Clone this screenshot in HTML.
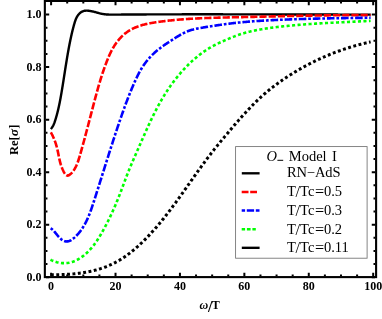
<!DOCTYPE html>
<html><head><meta charset="utf-8"><title>Re[sigma] vs omega/T</title>
<style>
html,body{margin:0;padding:0;background:#fff;}
body{width:382px;height:319px;overflow:hidden;font-family:"Liberation Serif",serif;}
svg{display:block;will-change:transform;}
</style></head><body>
<svg width="382" height="319" viewBox="0 0 382 319">
<rect x="0" y="0" width="382" height="319" fill="#fff"/>
<clipPath id="c"><rect x="44.85" y="0.95" width="331.25" height="276.15000000000003"/></clipPath>
<g clip-path="url(#c)" fill="none" stroke-linejoin="round">
<path d="M50.80,129.00 L51.27,128.47 L51.70,127.93 L52.10,127.36 L52.48,126.79 L52.83,126.20 L53.16,125.60 L53.47,124.99 L53.75,124.36 L54.02,123.73 L54.27,123.10 L54.52,122.45 L54.74,121.80 L54.96,121.15 L55.18,120.49 L55.39,119.83 L55.59,119.18 L55.79,118.52 L55.99,117.86 L56.18,117.19 L56.37,116.53 L56.56,115.87 L56.74,115.21 L56.92,114.54 L57.10,113.88 L57.27,113.21 L57.44,112.55 L57.61,111.88 L57.78,111.21 L57.94,110.55 L58.10,109.88 L58.26,109.21 L58.41,108.54 L58.56,107.87 L58.71,107.20 L58.86,106.53 L59.01,105.86 L59.15,105.18 L59.29,104.51 L59.43,103.84 L59.57,103.16 L59.70,102.49 L59.84,101.82 L59.97,101.14 L60.10,100.47 L60.23,99.79 L60.35,99.11 L60.48,98.44 L60.60,97.76 L60.73,97.08 L60.85,96.41 L60.97,95.73 L61.09,95.05 L61.20,94.37 L61.32,93.69 L61.44,93.01 L61.55,92.34 L61.67,91.66 L61.78,90.98 L61.90,90.30 L62.01,89.62 L62.12,88.94 L62.23,88.26 L62.35,87.58 L62.46,86.90 L62.57,86.22 L62.68,85.53 L62.79,84.85 L62.90,84.17 L63.00,83.49 L63.11,82.81 L63.22,82.13 L63.33,81.45 L63.44,80.77 L63.54,80.08 L63.65,79.40 L63.76,78.72 L63.86,78.04 L63.97,77.36 L64.08,76.68 L64.18,75.99 L64.29,75.31 L64.39,74.63 L64.50,73.95 L64.61,73.27 L64.71,72.58 L64.82,71.90 L64.92,71.22 L65.03,70.54 L65.14,69.86 L65.24,69.18 L65.35,68.49 L65.46,67.81 L65.57,67.13 L65.67,66.45 L65.78,65.77 L65.89,65.09 L66.00,64.41 L66.11,63.73 L66.22,63.05 L66.33,62.37 L66.44,61.69 L66.55,61.01 L66.66,60.33 L66.77,59.65 L66.88,58.97 L67.00,58.29 L67.11,57.61 L67.22,56.93 L67.34,56.25 L67.45,55.57 L67.57,54.90 L67.69,54.22 L67.80,53.54 L67.92,52.86 L68.04,52.19 L68.16,51.51 L68.28,50.83 L68.41,50.16 L68.53,49.48 L68.65,48.81 L68.78,48.13 L68.90,47.46 L69.03,46.78 L69.16,46.11 L69.29,45.44 L69.42,44.76 L69.55,44.09 L69.68,43.42 L69.82,42.75 L69.95,42.07 L70.09,41.40 L70.23,40.73 L70.36,40.06 L70.50,39.39 L70.65,38.72 L70.79,38.05 L70.93,37.39 L71.08,36.72 L71.23,36.05 L71.38,35.38 L71.53,34.72 L71.68,34.05 L71.83,33.38 L71.99,32.72 L72.15,32.05 L72.31,31.38 L72.47,30.71 L72.64,30.05 L72.81,29.38 L72.98,28.71 L73.15,28.04 L73.33,27.37 L73.51,26.69 L73.69,26.02 L73.87,25.35 L74.06,24.67 L74.26,24.00 L74.45,23.32 L74.65,22.64 L74.86,21.97 L75.08,21.29 L75.30,20.62 L75.55,19.96 L75.80,19.30 L76.07,18.65 L76.37,18.01 L76.68,17.39 L77.01,16.77 L77.37,16.17 L77.76,15.58 L78.16,15.02 L78.59,14.48 L79.04,13.96 L79.51,13.47 L80.00,13.01 L80.52,12.59 L81.05,12.20 L81.60,11.85 L82.18,11.54 L82.77,11.28 L83.38,11.06 L84.01,10.90 L84.65,10.77 L85.31,10.69 L85.98,10.64 L86.65,10.62 L87.34,10.64 L88.03,10.69 L88.72,10.76 L89.41,10.85 L90.11,10.95 L90.79,11.08 L91.48,11.21 L92.17,11.36 L92.85,11.52 L93.53,11.68 L94.20,11.85 L94.88,12.03 L95.55,12.21 L96.22,12.40 L96.90,12.58 L97.57,12.76 L98.24,12.94 L98.91,13.12 L99.58,13.29 L100.25,13.46 L100.92,13.61 L101.59,13.76 L102.26,13.89 L102.94,14.01 L103.61,14.12 L104.29,14.22 L104.97,14.30 L105.65,14.37 L106.33,14.43 L107.02,14.48 L107.70,14.53 L108.38,14.56 L109.07,14.59 L109.76,14.61 L110.44,14.62 L111.13,14.63 L111.82,14.64 L112.51,14.64 L113.19,14.64 L113.88,14.63 L114.57,14.63 L115.26,14.62 L115.95,14.62 L116.64,14.61 L117.33,14.60 L118.02,14.60 L118.70,14.59 L119.39,14.59 L120.08,14.58 L120.77,14.58 L121.46,14.57 L122.15,14.57 L122.84,14.56 L123.53,14.56 L124.22,14.55 L124.90,14.55 L125.59,14.54 L126.28,14.54 L126.97,14.53 L127.66,14.53 L128.35,14.53 L129.04,14.52 L129.73,14.52 L130.42,14.51 L131.10,14.51 L131.79,14.50 L132.48,14.50 L133.17,14.50 L133.86,14.49 L134.55,14.49 L135.24,14.48 L135.93,14.48 L136.62,14.48 L137.30,14.47 L137.99,14.47 L138.68,14.46 L139.37,14.46 L140.06,14.46 L140.75,14.45 L141.44,14.45 L142.13,14.45 L142.81,14.44 L143.50,14.44 L144.19,14.44 L144.88,14.43 L145.57,14.43 L146.26,14.43 L146.95,14.42 L147.64,14.42 L148.32,14.42 L149.01,14.42 L149.70,14.41 L150.39,14.41 L151.08,14.41 L151.77,14.40 L152.46,14.40 L153.14,14.40 L153.83,14.40 L154.52,14.39 L155.21,14.39 L155.90,14.39 L156.59,14.39 L157.28,14.38 L157.97,14.38 L158.65,14.38 L159.34,14.38 L160.03,14.37 L160.72,14.37 L161.41,14.37 L162.10,14.37 L162.79,14.37 L163.47,14.36 L164.16,14.36 L164.85,14.36 L165.54,14.36 L166.23,14.36 L166.92,14.35 L167.61,14.35 L168.30,14.35 L168.98,14.35 L169.67,14.35 L170.36,14.35 L171.05,14.34 L171.74,14.34 L172.43,14.34 L173.12,14.34 L173.80,14.34 L174.49,14.34 L175.18,14.34 L175.87,14.33 L176.56,14.33 L177.25,14.33 L177.94,14.33 L178.62,14.33 L179.31,14.33 L180.00,14.33 L180.69,14.33 L181.38,14.33 L182.07,14.32 L182.76,14.32 L183.44,14.32 L184.13,14.32 L184.82,14.32 L185.51,14.32 L186.20,14.32 L186.89,14.32 L187.57,14.32 L188.26,14.32 L188.95,14.32 L189.64,14.32 L190.33,14.32 L191.02,14.32 L191.71,14.32 L192.39,14.31 L193.08,14.31 L193.77,14.31 L194.46,14.31 L195.15,14.31 L195.84,14.31 L196.53,14.31 L197.21,14.31 L197.90,14.31 L198.59,14.31 L199.28,14.31 L199.97,14.31 L200.66,14.31 L201.34,14.31 L202.03,14.31 L202.72,14.31 L203.41,14.31 L204.10,14.31 L204.79,14.31 L205.48,14.31 L206.16,14.31 L206.85,14.31 L207.54,14.31 L208.23,14.31 L208.92,14.31 L209.61,14.31 L210.29,14.31 L210.98,14.31 L211.67,14.32 L212.36,14.32 L213.05,14.32 L213.74,14.32 L214.42,14.32 L215.11,14.32 L215.80,14.32 L216.49,14.32 L217.18,14.32 L217.87,14.32 L218.56,14.32 L219.24,14.32 L219.93,14.32 L220.62,14.32 L221.31,14.32 L222.00,14.32 L222.69,14.32 L223.37,14.33 L224.06,14.33 L224.75,14.33 L225.44,14.33 L226.13,14.33 L226.82,14.33 L227.50,14.33 L228.19,14.33 L228.88,14.33 L229.57,14.33 L230.26,14.33 L230.95,14.34 L231.64,14.34 L232.32,14.34 L233.01,14.34 L233.70,14.34 L234.39,14.34 L235.08,14.34 L235.77,14.34 L236.45,14.34 L237.14,14.35 L237.83,14.35 L238.52,14.35 L239.21,14.35 L239.90,14.35 L240.58,14.35 L241.27,14.35 L241.96,14.35 L242.65,14.36 L243.34,14.36 L244.03,14.36 L244.71,14.36 L245.40,14.36 L246.09,14.36 L246.78,14.36 L247.47,14.37 L248.16,14.37 L248.84,14.37 L249.53,14.37 L250.22,14.37 L250.91,14.37 L251.60,14.37 L252.29,14.38 L252.97,14.38 L253.66,14.38 L254.35,14.38 L255.04,14.38 L255.73,14.38 L256.42,14.38 L257.10,14.39 L257.79,14.39 L258.48,14.39 L259.17,14.39 L259.86,14.39 L260.55,14.39 L261.24,14.40 L261.92,14.40 L262.61,14.40 L263.30,14.40 L263.99,14.40 L264.68,14.40 L265.37,14.41 L266.05,14.41 L266.74,14.41 L267.43,14.41 L268.12,14.41 L268.81,14.41 L269.50,14.42 L270.18,14.42 L270.87,14.42 L271.56,14.42 L272.25,14.42 L272.94,14.42 L273.63,14.43 L274.31,14.43 L275.00,14.43 L275.69,14.43 L276.38,14.43 L277.07,14.44 L277.76,14.44 L278.44,14.44 L279.13,14.44 L279.82,14.44 L280.51,14.44 L281.20,14.45 L281.89,14.45 L282.57,14.45 L283.26,14.45 L283.95,14.45 L284.64,14.45 L285.33,14.46 L286.02,14.46 L286.70,14.46 L287.39,14.46 L288.08,14.46 L288.77,14.47 L289.46,14.47 L290.15,14.47 L290.83,14.47 L291.52,14.47 L292.21,14.47 L292.90,14.48 L293.59,14.48 L294.28,14.48 L294.97,14.48 L295.65,14.48 L296.34,14.49 L297.03,14.49 L297.72,14.49 L298.41,14.49 L299.10,14.49 L299.78,14.49 L300.47,14.50 L301.16,14.50 L301.85,14.50 L302.54,14.50 L303.23,14.50 L303.91,14.50 L304.60,14.51 L305.29,14.51 L305.98,14.51 L306.67,14.51 L307.36,14.51 L308.04,14.51 L308.73,14.52 L309.42,14.52 L310.11,14.52 L310.80,14.52 L311.49,14.52 L312.18,14.52 L312.86,14.53 L313.55,14.53 L314.24,14.53 L314.93,14.53 L315.62,14.53 L316.31,14.53 L316.99,14.53 L317.68,14.54 L318.37,14.54 L319.06,14.54 L319.75,14.54 L320.44,14.54 L321.12,14.54 L321.81,14.54 L322.50,14.55 L323.19,14.55 L323.88,14.55 L324.57,14.55 L325.26,14.55 L325.94,14.55 L326.63,14.55 L327.32,14.56 L328.01,14.56 L328.70,14.56 L329.39,14.56 L330.07,14.56 L330.76,14.56 L331.45,14.56 L332.14,14.56 L332.83,14.57 L333.52,14.57 L334.21,14.57 L334.89,14.57 L335.58,14.57 L336.27,14.57 L336.96,14.57 L337.65,14.57 L338.34,14.58 L339.03,14.58 L339.71,14.58 L340.40,14.58 L341.09,14.58 L341.78,14.58 L342.47,14.58 L343.16,14.58 L343.84,14.58 L344.53,14.58 L345.22,14.58 L345.91,14.59 L346.60,14.59 L347.29,14.59 L347.98,14.59 L348.66,14.59 L349.35,14.59 L350.04,14.59 L350.73,14.59 L351.42,14.59 L352.11,14.59 L352.80,14.59 L353.48,14.59 L354.17,14.59 L354.86,14.59 L355.55,14.60 L356.24,14.60 L356.93,14.60 L357.62,14.60 L358.30,14.60 L358.99,14.60 L359.68,14.60 L360.37,14.60 L361.06,14.60 L361.75,14.60 L362.44,14.60 L363.12,14.60 L363.81,14.60 L364.50,14.60 L365.19,14.60 L365.88,14.60 L366.57,14.60 L367.26,14.60 L367.95,14.60 L368.63,14.60 L369.32,14.60 L370.01,14.60 L370.70,14.60" stroke="#000" stroke-width="2.4"/>
<path d="M50.80,132.30 L51.17,132.95 L51.53,133.60 L51.88,134.26 L52.23,134.93 L52.57,135.60 L52.89,136.28 L53.21,136.97 L53.52,137.66 L53.83,138.36 L54.12,139.06 L54.40,139.77 L54.68,140.48 L54.95,141.19 L55.21,141.91 L55.46,142.63 L55.70,143.35 L55.94,144.07 L56.16,144.80 L56.38,145.53 L56.58,146.25 L56.78,146.98 L56.97,147.71 L57.15,148.44 L57.33,149.17 L57.49,149.89 L57.65,150.62 L57.81,151.35 L57.96,152.08 L58.11,152.81 L58.26,153.54 L58.40,154.27 L58.55,155.00 L58.69,155.73 L58.84,156.46 L58.99,157.19 L59.14,157.92 L59.30,158.66 L59.46,159.39 L59.63,160.12 L59.81,160.86 L59.99,161.60 L60.18,162.34 L60.38,163.07 L60.60,163.81 L60.82,164.56 L61.06,165.30 L61.31,166.04 L61.57,166.79 L61.85,167.54 L62.15,168.29 L62.46,169.04 L62.79,169.79 L63.14,170.54 L63.51,171.30 L63.90,172.03 L64.31,172.74 L64.74,173.41 L65.19,174.01 L65.65,174.54 L66.13,174.98 L66.63,175.31 L67.15,175.53 L67.68,175.60 L68.23,175.53 L68.79,175.32 L69.35,174.99 L69.92,174.57 L70.47,174.09 L71.00,173.59 L71.52,173.07 L72.01,172.53 L72.49,171.97 L72.94,171.40 L73.38,170.82 L73.80,170.22 L74.20,169.60 L74.59,168.98 L74.96,168.34 L75.32,167.69 L75.67,167.03 L76.00,166.36 L76.32,165.68 L76.62,165.00 L76.92,164.30 L77.21,163.60 L77.48,162.88 L77.75,162.17 L78.01,161.44 L78.26,160.72 L78.50,159.98 L78.74,159.25 L78.97,158.51 L79.20,157.77 L79.43,157.02 L79.65,156.28 L79.87,155.53 L80.08,154.79 L80.30,154.04 L80.51,153.30 L80.72,152.55 L80.94,151.81 L81.15,151.07 L81.36,150.33 L81.57,149.59 L81.77,148.85 L81.98,148.11 L82.19,147.37 L82.39,146.64 L82.60,145.90 L82.80,145.16 L83.00,144.43 L83.21,143.69 L83.41,142.96 L83.61,142.23 L83.81,141.49 L84.01,140.76 L84.21,140.03 L84.41,139.30 L84.60,138.57 L84.80,137.84 L85.00,137.11 L85.19,136.38 L85.39,135.65 L85.58,134.92 L85.78,134.19 L85.97,133.47 L86.16,132.74 L86.36,132.01 L86.55,131.29 L86.74,130.56 L86.93,129.83 L87.12,129.11 L87.32,128.38 L87.51,127.66 L87.70,126.93 L87.89,126.21 L88.08,125.48 L88.27,124.76 L88.46,124.03 L88.65,123.31 L88.83,122.59 L89.02,121.86 L89.21,121.14 L89.40,120.41 L89.59,119.69 L89.78,118.97 L89.97,118.24 L90.16,117.52 L90.34,116.80 L90.53,116.07 L90.72,115.35 L90.91,114.62 L91.10,113.90 L91.29,113.18 L91.48,112.45 L91.67,111.73 L91.86,111.00 L92.05,110.28 L92.24,109.55 L92.43,108.83 L92.62,108.10 L92.81,107.38 L93.00,106.65 L93.19,105.92 L93.38,105.20 L93.57,104.47 L93.76,103.74 L93.96,103.02 L94.15,102.29 L94.34,101.56 L94.54,100.83 L94.73,100.10 L94.93,99.37 L95.12,98.64 L95.32,97.91 L95.52,97.18 L95.71,96.45 L95.91,95.72 L96.11,94.99 L96.31,94.26 L96.51,93.53 L96.71,92.79 L96.91,92.06 L97.11,91.33 L97.32,90.60 L97.52,89.87 L97.73,89.14 L97.94,88.40 L98.14,87.67 L98.35,86.94 L98.56,86.21 L98.77,85.48 L98.99,84.75 L99.20,84.02 L99.42,83.29 L99.63,82.56 L99.85,81.83 L100.07,81.10 L100.29,80.38 L100.51,79.65 L100.74,78.92 L100.96,78.20 L101.19,77.47 L101.42,76.75 L101.65,76.03 L101.88,75.30 L102.11,74.58 L102.35,73.86 L102.58,73.14 L102.82,72.42 L103.06,71.71 L103.31,70.99 L103.55,70.27 L103.80,69.56 L104.05,68.85 L104.30,68.14 L104.55,67.43 L104.81,66.72 L105.06,66.01 L105.32,65.30 L105.59,64.60 L105.85,63.89 L106.12,63.19 L106.39,62.49 L106.66,61.79 L106.93,61.09 L107.21,60.40 L107.48,59.70 L107.77,59.01 L108.05,58.32 L108.34,57.63 L108.63,56.95 L108.92,56.26 L109.22,55.58 L109.53,54.90 L109.83,54.22 L110.15,53.55 L110.47,52.88 L110.79,52.21 L111.12,51.54 L111.46,50.88 L111.80,50.22 L112.16,49.56 L112.51,48.90 L112.88,48.25 L113.25,47.60 L113.64,46.96 L114.03,46.32 L114.43,45.68 L114.83,45.05 L115.25,44.42 L115.68,43.79 L116.12,43.17 L116.57,42.55 L117.03,41.94 L117.50,41.33 L117.98,40.73 L118.46,40.13 L118.96,39.54 L119.47,38.96 L119.99,38.38 L120.52,37.81 L121.05,37.25 L121.60,36.70 L122.15,36.16 L122.71,35.62 L123.28,35.10 L123.85,34.59 L124.44,34.09 L125.03,33.60 L125.63,33.13 L126.23,32.67 L126.84,32.22 L127.46,31.78 L128.08,31.36 L128.71,30.95 L129.34,30.55 L129.98,30.17 L130.63,29.80 L131.28,29.44 L131.94,29.09 L132.60,28.75 L133.27,28.42 L133.94,28.11 L134.62,27.80 L135.30,27.51 L135.98,27.22 L136.67,26.95 L137.36,26.68 L138.06,26.42 L138.76,26.18 L139.47,25.94 L140.18,25.71 L140.89,25.49 L141.61,25.27 L142.32,25.06 L143.05,24.86 L143.77,24.67 L144.50,24.49 L145.23,24.31 L145.96,24.13 L146.69,23.97 L147.43,23.80 L148.17,23.65 L148.91,23.50 L149.65,23.35 L150.39,23.21 L151.14,23.08 L151.89,22.94 L152.63,22.81 L153.38,22.69 L154.13,22.57 L154.88,22.45 L155.63,22.33 L156.38,22.22 L157.13,22.11 L157.89,22.00 L158.64,21.89 L159.39,21.79 L160.14,21.69 L160.89,21.58 L161.64,21.48 L162.40,21.39 L163.15,21.29 L163.90,21.19 L164.65,21.10 L165.40,21.01 L166.15,20.92 L166.91,20.83 L167.66,20.75 L168.41,20.66 L169.16,20.58 L169.92,20.50 L170.67,20.42 L171.42,20.34 L172.17,20.26 L172.92,20.18 L173.68,20.11 L174.43,20.04 L175.18,19.97 L175.93,19.90 L176.69,19.83 L177.44,19.76 L178.19,19.69 L178.94,19.63 L179.70,19.57 L180.45,19.50 L181.20,19.44 L181.95,19.38 L182.71,19.33 L183.46,19.27 L184.21,19.21 L184.96,19.16 L185.72,19.11 L186.47,19.05 L187.22,19.00 L187.98,18.95 L188.73,18.90 L189.48,18.86 L190.24,18.81 L190.99,18.76 L191.74,18.72 L192.49,18.68 L193.25,18.63 L194.00,18.59 L194.75,18.55 L195.51,18.51 L196.26,18.47 L197.01,18.43 L197.77,18.40 L198.52,18.36 L199.27,18.33 L200.03,18.29 L200.78,18.26 L201.53,18.22 L202.29,18.19 L203.04,18.16 L203.80,18.13 L204.55,18.10 L205.30,18.07 L206.06,18.04 L206.81,18.01 L207.56,17.99 L208.32,17.96 L209.07,17.93 L209.83,17.91 L210.58,17.88 L211.33,17.86 L212.09,17.84 L212.84,17.81 L213.59,17.79 L214.35,17.77 L215.10,17.75 L215.86,17.72 L216.61,17.70 L217.36,17.68 L218.12,17.66 L218.87,17.64 L219.63,17.62 L220.38,17.60 L221.13,17.58 L221.89,17.57 L222.64,17.55 L223.40,17.53 L224.15,17.51 L224.91,17.49 L225.66,17.48 L226.41,17.46 L227.17,17.44 L227.92,17.42 L228.68,17.41 L229.43,17.39 L230.19,17.37 L230.94,17.36 L231.69,17.34 L232.45,17.32 L233.20,17.31 L233.96,17.29 L234.71,17.27 L235.47,17.26 L236.22,17.24 L236.98,17.22 L237.73,17.21 L238.48,17.19 L239.24,17.17 L239.99,17.16 L240.75,17.14 L241.50,17.12 L242.26,17.11 L243.01,17.09 L243.77,17.07 L244.52,17.05 L245.28,17.04 L246.03,17.02 L246.79,17.00 L247.54,16.98 L248.29,16.97 L249.05,16.95 L249.80,16.93 L250.56,16.91 L251.31,16.90 L252.07,16.88 L252.82,16.86 L253.58,16.84 L254.33,16.83 L255.09,16.81 L255.84,16.79 L256.60,16.77 L257.35,16.75 L258.11,16.74 L258.86,16.72 L259.62,16.70 L260.37,16.68 L261.13,16.67 L261.88,16.65 L262.64,16.63 L263.39,16.61 L264.15,16.59 L264.90,16.58 L265.66,16.56 L266.41,16.54 L267.17,16.52 L267.92,16.51 L268.68,16.49 L269.43,16.47 L270.19,16.45 L270.94,16.43 L271.70,16.42 L272.45,16.40 L273.21,16.38 L273.96,16.36 L274.72,16.35 L275.47,16.33 L276.23,16.31 L276.98,16.29 L277.74,16.28 L278.49,16.26 L279.25,16.24 L280.00,16.23 L280.76,16.21 L281.51,16.19 L282.27,16.17 L283.02,16.16 L283.78,16.14 L284.53,16.12 L285.29,16.11 L286.04,16.09 L286.80,16.07 L287.55,16.06 L288.31,16.04 L289.06,16.02 L289.82,16.01 L290.57,15.99 L291.33,15.97 L292.08,15.96 L292.84,15.94 L293.59,15.93 L294.35,15.91 L295.10,15.90 L295.86,15.88 L296.62,15.86 L297.37,15.85 L298.13,15.83 L298.88,15.82 L299.64,15.80 L300.39,15.79 L301.15,15.77 L301.90,15.76 L302.66,15.74 L303.41,15.73 L304.17,15.71 L304.92,15.70 L305.68,15.69 L306.43,15.67 L307.19,15.66 L307.94,15.64 L308.70,15.63 L309.45,15.62 L310.21,15.60 L310.96,15.59 L311.72,15.58 L312.47,15.56 L313.23,15.55 L313.98,15.54 L314.74,15.53 L315.49,15.51 L316.25,15.50 L317.00,15.49 L317.76,15.48 L318.52,15.46 L319.27,15.45 L320.03,15.44 L320.78,15.43 L321.54,15.42 L322.29,15.41 L323.05,15.40 L323.80,15.39 L324.56,15.38 L325.31,15.37 L326.07,15.36 L326.82,15.35 L327.58,15.34 L328.33,15.33 L329.09,15.32 L329.84,15.31 L330.60,15.30 L331.35,15.29 L332.11,15.28 L332.86,15.27 L333.62,15.26 L334.37,15.26 L335.13,15.25 L335.88,15.24 L336.64,15.23 L337.39,15.23 L338.15,15.22 L338.90,15.21 L339.66,15.21 L340.41,15.20 L341.17,15.19 L341.92,15.19 L342.68,15.18 L343.43,15.18 L344.19,15.17 L344.94,15.17 L345.70,15.16 L346.45,15.16 L347.21,15.15 L347.96,15.15 L348.72,15.14 L349.47,15.14 L350.23,15.14 L350.98,15.14 L351.73,15.13 L352.49,15.13 L353.24,15.13 L354.00,15.13 L354.75,15.12 L355.51,15.12 L356.26,15.12 L357.02,15.12 L357.77,15.12 L358.53,15.12 L359.28,15.12 L360.04,15.12 L360.79,15.12 L361.55,15.12 L362.30,15.12 L363.05,15.12 L363.81,15.12 L364.56,15.13 L365.32,15.13 L366.07,15.13 L366.83,15.13 L367.58,15.14 L368.34,15.14 L369.09,15.14 L369.85,15.15 L370.60,15.15" stroke="#ff0000" stroke-width="2.6" stroke-dasharray="7.2 2.0" stroke-dashoffset="0"/>
<path d="M50.60,228.30 L51.17,228.61 L51.73,228.99 L52.28,229.41 L52.82,229.89 L53.35,230.41 L53.87,230.97 L54.39,231.56 L54.92,232.18 L55.43,232.82 L55.96,233.47 L56.48,234.13 L57.01,234.80 L57.55,235.47 L58.09,236.12 L58.65,236.77 L59.22,237.39 L59.80,237.99 L60.39,238.56 L61.01,239.10 L61.64,239.59 L62.28,240.03 L62.93,240.42 L63.60,240.75 L64.28,241.02 L64.97,241.22 L65.66,241.35 L66.36,241.42 L67.06,241.42 L67.75,241.36 L68.44,241.24 L69.13,241.06 L69.80,240.82 L70.46,240.52 L71.11,240.16 L71.74,239.76 L72.36,239.32 L72.97,238.85 L73.56,238.36 L74.14,237.86 L74.71,237.36 L75.27,236.84 L75.82,236.32 L76.35,235.79 L76.88,235.25 L77.40,234.70 L77.90,234.15 L78.40,233.58 L78.88,233.01 L79.36,232.43 L79.82,231.85 L80.28,231.26 L80.73,230.66 L81.17,230.05 L81.60,229.44 L82.02,228.82 L82.43,228.20 L82.84,227.57 L83.23,226.93 L83.62,226.29 L84.00,225.64 L84.38,224.99 L84.75,224.33 L85.11,223.67 L85.46,223.00 L85.81,222.33 L86.15,221.65 L86.48,220.97 L86.81,220.29 L87.13,219.60 L87.45,218.90 L87.76,218.21 L88.06,217.51 L88.36,216.80 L88.66,216.09 L88.95,215.38 L89.24,214.67 L89.52,213.95 L89.80,213.23 L90.07,212.51 L90.34,211.79 L90.61,211.06 L90.88,210.33 L91.14,209.60 L91.39,208.87 L91.65,208.14 L91.90,207.40 L92.15,206.67 L92.40,205.93 L92.65,205.20 L92.89,204.46 L93.13,203.72 L93.37,202.98 L93.61,202.24 L93.85,201.50 L94.09,200.76 L94.33,200.02 L94.57,199.29 L94.80,198.55 L95.04,197.81 L95.27,197.07 L95.51,196.34 L95.75,195.60 L95.98,194.87 L96.21,194.13 L96.45,193.39 L96.68,192.66 L96.92,191.93 L97.15,191.19 L97.38,190.46 L97.61,189.73 L97.85,188.99 L98.08,188.26 L98.31,187.53 L98.54,186.80 L98.77,186.07 L99.00,185.34 L99.24,184.61 L99.47,183.88 L99.70,183.15 L99.93,182.42 L100.16,181.69 L100.39,180.96 L100.62,180.23 L100.84,179.50 L101.07,178.77 L101.30,178.05 L101.53,177.32 L101.76,176.59 L101.99,175.86 L102.22,175.14 L102.45,174.41 L102.68,173.69 L102.90,172.96 L103.13,172.23 L103.36,171.51 L103.59,170.78 L103.82,170.06 L104.04,169.33 L104.27,168.61 L104.50,167.88 L104.73,167.16 L104.96,166.44 L105.18,165.71 L105.41,164.99 L105.64,164.26 L105.87,163.54 L106.10,162.82 L106.33,162.09 L106.55,161.37 L106.78,160.65 L107.01,159.93 L107.24,159.20 L107.47,158.48 L107.70,157.76 L107.93,157.04 L108.16,156.31 L108.38,155.59 L108.61,154.87 L108.84,154.15 L109.07,153.43 L109.30,152.70 L109.53,151.98 L109.76,151.26 L109.99,150.54 L110.22,149.82 L110.46,149.10 L110.69,148.37 L110.92,147.65 L111.15,146.93 L111.38,146.21 L111.61,145.49 L111.85,144.77 L112.08,144.05 L112.31,143.32 L112.55,142.60 L112.78,141.88 L113.01,141.16 L113.25,140.44 L113.48,139.72 L113.72,139.00 L113.95,138.27 L114.19,137.55 L114.43,136.83 L114.66,136.11 L114.90,135.39 L115.14,134.66 L115.38,133.94 L115.61,133.22 L115.85,132.50 L116.09,131.77 L116.33,131.05 L116.57,130.33 L116.81,129.61 L117.06,128.88 L117.30,128.16 L117.54,127.44 L117.78,126.71 L118.03,125.99 L118.27,125.27 L118.51,124.54 L118.76,123.82 L119.00,123.09 L119.25,122.37 L119.50,121.65 L119.74,120.92 L119.99,120.20 L120.24,119.47 L120.49,118.75 L120.74,118.02 L120.99,117.30 L121.24,116.57 L121.49,115.85 L121.75,115.12 L122.00,114.40 L122.25,113.67 L122.51,112.95 L122.77,112.22 L123.02,111.50 L123.28,110.77 L123.54,110.05 L123.80,109.32 L124.06,108.60 L124.32,107.88 L124.59,107.16 L124.85,106.43 L125.11,105.71 L125.38,104.99 L125.65,104.27 L125.91,103.55 L126.18,102.83 L126.45,102.11 L126.72,101.39 L127.00,100.67 L127.27,99.95 L127.54,99.24 L127.82,98.52 L128.10,97.80 L128.38,97.09 L128.66,96.37 L128.94,95.66 L129.22,94.95 L129.50,94.23 L129.79,93.52 L130.08,92.81 L130.36,92.10 L130.65,91.39 L130.94,90.69 L131.24,89.98 L131.53,89.27 L131.82,88.57 L132.12,87.86 L132.42,87.16 L132.72,86.46 L133.02,85.76 L133.32,85.06 L133.63,84.36 L133.93,83.66 L134.24,82.97 L134.55,82.27 L134.86,81.58 L135.17,80.89 L135.49,80.20 L135.81,79.51 L136.12,78.82 L136.44,78.13 L136.77,77.45 L137.10,76.76 L137.43,76.08 L137.76,75.41 L138.10,74.73 L138.44,74.05 L138.79,73.38 L139.14,72.71 L139.50,72.05 L139.86,71.38 L140.23,70.72 L140.61,70.06 L140.99,69.41 L141.38,68.76 L141.78,68.11 L142.18,67.46 L142.59,66.82 L143.01,66.18 L143.44,65.55 L143.87,64.92 L144.31,64.29 L144.76,63.67 L145.22,63.05 L145.68,62.44 L146.15,61.83 L146.62,61.23 L147.10,60.63 L147.59,60.04 L148.09,59.45 L148.59,58.86 L149.10,58.28 L149.61,57.71 L150.13,57.14 L150.66,56.58 L151.19,56.02 L151.72,55.47 L152.26,54.93 L152.81,54.39 L153.36,53.85 L153.92,53.33 L154.48,52.81 L155.05,52.29 L155.62,51.79 L156.20,51.29 L156.78,50.79 L157.37,50.31 L157.95,49.83 L158.55,49.35 L159.15,48.88 L159.75,48.42 L160.35,47.96 L160.96,47.51 L161.57,47.06 L162.18,46.62 L162.80,46.18 L163.42,45.74 L164.04,45.30 L164.67,44.87 L165.29,44.45 L165.92,44.02 L166.55,43.60 L167.19,43.18 L167.82,42.76 L168.46,42.34 L169.09,41.92 L169.73,41.50 L170.37,41.09 L171.01,40.67 L171.65,40.25 L172.30,39.84 L172.94,39.42 L173.58,39.01 L174.23,38.59 L174.87,38.18 L175.52,37.77 L176.17,37.36 L176.82,36.96 L177.47,36.56 L178.13,36.16 L178.78,35.77 L179.44,35.38 L180.10,35.00 L180.77,34.62 L181.44,34.26 L182.11,33.89 L182.78,33.54 L183.46,33.20 L184.14,32.86 L184.82,32.53 L185.51,32.21 L186.20,31.91 L186.90,31.61 L187.60,31.32 L188.31,31.05 L189.02,30.79 L189.73,30.54 L190.45,30.30 L191.18,30.07 L191.90,29.86 L192.64,29.66 L193.37,29.46 L194.11,29.28 L194.86,29.10 L195.60,28.94 L196.35,28.77 L197.10,28.62 L197.85,28.47 L198.61,28.33 L199.36,28.19 L200.12,28.05 L200.87,27.92 L201.63,27.79 L202.39,27.66 L203.15,27.53 L203.90,27.40 L204.66,27.28 L205.42,27.15 L206.17,27.03 L206.93,26.90 L207.68,26.78 L208.44,26.65 L209.20,26.53 L209.95,26.41 L210.71,26.29 L211.46,26.17 L212.22,26.05 L212.97,25.93 L213.73,25.82 L214.48,25.70 L215.24,25.59 L215.99,25.47 L216.75,25.36 L217.50,25.25 L218.25,25.14 L219.01,25.03 L219.76,24.92 L220.52,24.81 L221.27,24.70 L222.03,24.60 L222.78,24.49 L223.54,24.39 L224.29,24.29 L225.05,24.18 L225.80,24.08 L226.56,23.99 L227.31,23.89 L228.07,23.79 L228.82,23.70 L229.58,23.60 L230.33,23.51 L231.09,23.42 L231.84,23.33 L232.60,23.24 L233.36,23.15 L234.11,23.06 L234.87,22.98 L235.63,22.89 L236.39,22.81 L237.14,22.73 L237.90,22.65 L238.66,22.57 L239.42,22.50 L240.18,22.42 L240.93,22.34 L241.69,22.27 L242.45,22.20 L243.21,22.13 L243.97,22.06 L244.73,21.99 L245.49,21.92 L246.25,21.86 L247.01,21.79 L247.77,21.73 L248.53,21.67 L249.29,21.60 L250.05,21.54 L250.81,21.48 L251.58,21.43 L252.34,21.37 L253.10,21.31 L253.86,21.26 L254.62,21.20 L255.38,21.15 L256.14,21.09 L256.91,21.04 L257.67,20.99 L258.43,20.94 L259.19,20.89 L259.96,20.84 L260.72,20.80 L261.48,20.75 L262.24,20.70 L263.01,20.66 L263.77,20.61 L264.53,20.57 L265.30,20.52 L266.06,20.48 L266.82,20.44 L267.58,20.40 L268.35,20.36 L269.11,20.32 L269.87,20.28 L270.64,20.24 L271.40,20.20 L272.16,20.16 L272.93,20.12 L273.69,20.09 L274.45,20.05 L275.22,20.01 L275.98,19.98 L276.74,19.94 L277.50,19.91 L278.27,19.87 L279.03,19.84 L279.79,19.81 L280.56,19.77 L281.32,19.74 L282.08,19.71 L282.85,19.68 L283.61,19.64 L284.37,19.61 L285.13,19.58 L285.90,19.55 L286.66,19.52 L287.42,19.49 L288.19,19.46 L288.95,19.44 L289.71,19.41 L290.47,19.38 L291.24,19.35 L292.00,19.32 L292.76,19.30 L293.53,19.27 L294.29,19.25 L295.05,19.22 L295.82,19.19 L296.58,19.17 L297.34,19.14 L298.10,19.12 L298.87,19.10 L299.63,19.07 L300.39,19.05 L301.16,19.03 L301.92,19.00 L302.68,18.98 L303.44,18.96 L304.21,18.94 L304.97,18.91 L305.73,18.89 L306.50,18.87 L307.26,18.85 L308.02,18.83 L308.78,18.81 L309.55,18.79 L310.31,18.77 L311.07,18.75 L311.83,18.73 L312.60,18.71 L313.36,18.69 L314.12,18.68 L314.89,18.66 L315.65,18.64 L316.41,18.62 L317.17,18.60 L317.94,18.59 L318.70,18.57 L319.46,18.55 L320.23,18.54 L320.99,18.52 L321.75,18.50 L322.52,18.49 L323.28,18.47 L324.04,18.46 L324.80,18.44 L325.57,18.43 L326.33,18.41 L327.09,18.40 L327.86,18.38 L328.62,18.37 L329.38,18.35 L330.14,18.34 L330.91,18.32 L331.67,18.31 L332.43,18.30 L333.20,18.28 L333.96,18.27 L334.72,18.26 L335.49,18.24 L336.25,18.23 L337.01,18.22 L337.77,18.20 L338.54,18.19 L339.30,18.18 L340.06,18.17 L340.83,18.15 L341.59,18.14 L342.35,18.13 L343.12,18.12 L343.88,18.10 L344.64,18.09 L345.41,18.08 L346.17,18.07 L346.93,18.06 L347.70,18.04 L348.46,18.03 L349.22,18.02 L349.99,18.01 L350.75,18.00 L351.51,17.99 L352.27,17.97 L353.04,17.96 L353.80,17.95 L354.57,17.94 L355.33,17.93 L356.09,17.92 L356.86,17.91 L357.62,17.90 L358.38,17.88 L359.15,17.87 L359.91,17.86 L360.67,17.85 L361.44,17.84 L362.20,17.83 L362.96,17.82 L363.73,17.80 L364.49,17.79 L365.25,17.78 L366.02,17.77 L366.78,17.76 L367.55,17.75 L368.31,17.74 L369.07,17.72 L369.84,17.71 L370.60,17.70" stroke="#0000ff" stroke-width="2.6" stroke-dasharray="2.7 1.9 7.6 1.9" stroke-dashoffset="0"/>
<path d="M50.50,259.70 L51.19,260.05 L51.90,260.39 L52.60,260.70 L53.31,261.00 L54.02,261.28 L54.74,261.54 L55.46,261.78 L56.19,262.00 L56.91,262.21 L57.64,262.39 L58.38,262.56 L59.11,262.70 L59.84,262.83 L60.58,262.93 L61.31,263.02 L62.05,263.09 L62.79,263.14 L63.52,263.17 L64.26,263.17 L64.99,263.16 L65.72,263.13 L66.45,263.08 L67.18,263.01 L67.90,262.92 L68.62,262.81 L69.34,262.68 L70.06,262.53 L70.77,262.36 L71.47,262.17 L72.17,261.95 L72.87,261.72 L73.56,261.48 L74.24,261.21 L74.93,260.92 L75.60,260.62 L76.27,260.30 L76.93,259.97 L77.59,259.62 L78.25,259.26 L78.89,258.88 L79.53,258.49 L80.17,258.09 L80.79,257.67 L81.42,257.24 L82.03,256.80 L82.64,256.35 L83.24,255.90 L83.83,255.43 L84.42,254.95 L85.00,254.46 L85.57,253.97 L86.14,253.47 L86.70,252.96 L87.25,252.44 L87.79,251.92 L88.33,251.38 L88.86,250.85 L89.38,250.30 L89.89,249.75 L90.40,249.20 L90.90,248.64 L91.39,248.07 L91.87,247.50 L92.35,246.93 L92.82,246.35 L93.28,245.77 L93.74,245.18 L94.19,244.59 L94.64,243.99 L95.08,243.39 L95.51,242.78 L95.94,242.18 L96.36,241.56 L96.78,240.95 L97.20,240.33 L97.60,239.71 L98.01,239.08 L98.41,238.46 L98.80,237.83 L99.20,237.19 L99.59,236.56 L99.97,235.92 L100.35,235.28 L100.73,234.64 L101.11,233.99 L101.48,233.35 L101.85,232.70 L102.22,232.05 L102.58,231.40 L102.94,230.75 L103.31,230.10 L103.67,229.45 L104.02,228.79 L104.38,228.14 L104.73,227.48 L105.08,226.82 L105.43,226.16 L105.78,225.50 L106.13,224.84 L106.47,224.18 L106.81,223.52 L107.15,222.85 L107.49,222.19 L107.83,221.52 L108.16,220.85 L108.49,220.18 L108.83,219.51 L109.15,218.84 L109.48,218.17 L109.81,217.50 L110.13,216.83 L110.45,216.15 L110.77,215.48 L111.09,214.80 L111.41,214.12 L111.72,213.45 L112.03,212.77 L112.34,212.09 L112.65,211.41 L112.96,210.73 L113.27,210.04 L113.57,209.36 L113.87,208.68 L114.17,207.99 L114.47,207.31 L114.77,206.62 L115.06,205.94 L115.36,205.25 L115.65,204.56 L115.94,203.87 L116.23,203.18 L116.52,202.49 L116.80,201.80 L117.09,201.11 L117.37,200.42 L117.65,199.73 L117.93,199.03 L118.21,198.34 L118.48,197.64 L118.76,196.95 L119.03,196.25 L119.30,195.56 L119.57,194.86 L119.84,194.16 L120.11,193.47 L120.37,192.77 L120.64,192.07 L120.90,191.37 L121.17,190.67 L121.43,189.97 L121.69,189.27 L121.95,188.57 L122.21,187.87 L122.47,187.17 L122.73,186.47 L123.00,185.77 L123.26,185.07 L123.52,184.37 L123.78,183.67 L124.04,182.98 L124.30,182.28 L124.56,181.58 L124.82,180.88 L125.08,180.18 L125.34,179.48 L125.61,178.78 L125.87,178.09 L126.14,177.39 L126.40,176.69 L126.67,176.00 L126.94,175.30 L127.21,174.61 L127.48,173.91 L127.75,173.22 L128.02,172.53 L128.30,171.83 L128.58,171.14 L128.85,170.45 L129.13,169.76 L129.41,169.07 L129.70,168.38 L129.98,167.69 L130.27,167.01 L130.55,166.32 L130.84,165.63 L131.13,164.94 L131.42,164.26 L131.71,163.57 L132.00,162.89 L132.29,162.20 L132.59,161.52 L132.88,160.83 L133.18,160.15 L133.47,159.47 L133.77,158.78 L134.07,158.10 L134.36,157.42 L134.66,156.73 L134.96,156.05 L135.26,155.37 L135.56,154.69 L135.86,154.00 L136.16,153.32 L136.46,152.64 L136.76,151.96 L137.06,151.27 L137.36,150.59 L137.66,149.91 L137.97,149.23 L138.27,148.54 L138.57,147.86 L138.87,147.18 L139.17,146.49 L139.47,145.81 L139.77,145.13 L140.07,144.44 L140.37,143.76 L140.67,143.07 L140.97,142.39 L141.27,141.70 L141.57,141.02 L141.87,140.33 L142.18,139.65 L142.48,138.96 L142.78,138.28 L143.08,137.59 L143.38,136.91 L143.68,136.23 L143.99,135.54 L144.29,134.86 L144.59,134.17 L144.90,133.49 L145.20,132.80 L145.51,132.12 L145.81,131.44 L146.12,130.75 L146.42,130.07 L146.73,129.39 L147.04,128.71 L147.35,128.03 L147.66,127.34 L147.97,126.66 L148.28,125.98 L148.59,125.30 L148.90,124.62 L149.22,123.94 L149.53,123.27 L149.85,122.59 L150.17,121.91 L150.49,121.23 L150.80,120.56 L151.13,119.88 L151.45,119.21 L151.77,118.53 L152.09,117.86 L152.42,117.19 L152.75,116.52 L153.08,115.84 L153.41,115.17 L153.74,114.50 L154.07,113.84 L154.40,113.17 L154.74,112.50 L155.08,111.84 L155.42,111.17 L155.76,110.51 L156.10,109.84 L156.44,109.18 L156.79,108.52 L157.14,107.86 L157.49,107.20 L157.84,106.54 L158.19,105.89 L158.55,105.23 L158.91,104.58 L159.27,103.93 L159.63,103.27 L159.99,102.62 L160.36,101.97 L160.73,101.33 L161.10,100.68 L161.47,100.03 L161.84,99.39 L162.22,98.75 L162.60,98.11 L162.98,97.47 L163.37,96.83 L163.75,96.19 L164.14,95.56 L164.53,94.92 L164.93,94.29 L165.32,93.66 L165.72,93.03 L166.12,92.40 L166.53,91.78 L166.93,91.15 L167.34,90.53 L167.76,89.91 L168.17,89.29 L168.59,88.67 L169.01,88.06 L169.43,87.44 L169.85,86.83 L170.28,86.22 L170.71,85.61 L171.14,85.00 L171.57,84.40 L172.01,83.79 L172.45,83.19 L172.89,82.59 L173.34,82.00 L173.79,81.40 L174.24,80.81 L174.69,80.21 L175.15,79.62 L175.61,79.03 L176.07,78.45 L176.53,77.86 L177.00,77.28 L177.47,76.70 L177.94,76.12 L178.41,75.55 L178.89,74.97 L179.37,74.40 L179.86,73.83 L180.34,73.27 L180.83,72.70 L181.32,72.14 L181.82,71.58 L182.32,71.02 L182.82,70.46 L183.32,69.91 L183.82,69.36 L184.33,68.81 L184.85,68.26 L185.36,67.72 L185.88,67.17 L186.40,66.64 L186.92,66.10 L187.45,65.57 L187.98,65.04 L188.51,64.51 L189.04,63.98 L189.58,63.46 L190.12,62.94 L190.66,62.43 L191.21,61.92 L191.76,61.41 L192.31,60.90 L192.86,60.40 L193.42,59.90 L193.98,59.41 L194.54,58.92 L195.11,58.43 L195.68,57.94 L196.25,57.46 L196.83,56.99 L197.40,56.51 L197.99,56.05 L198.57,55.58 L199.16,55.12 L199.74,54.66 L200.34,54.21 L200.93,53.76 L201.53,53.32 L202.13,52.88 L202.74,52.44 L203.34,52.01 L203.95,51.59 L204.57,51.16 L205.18,50.75 L205.80,50.34 L206.42,49.93 L207.05,49.53 L207.67,49.13 L208.30,48.73 L208.94,48.35 L209.57,47.96 L210.21,47.59 L210.86,47.21 L211.50,46.84 L212.15,46.48 L212.80,46.13 L213.45,45.77 L214.11,45.43 L214.77,45.08 L215.43,44.74 L216.09,44.41 L216.76,44.08 L217.43,43.75 L218.10,43.43 L218.77,43.11 L219.45,42.79 L220.12,42.47 L220.80,42.16 L221.48,41.85 L222.16,41.55 L222.84,41.24 L223.53,40.94 L224.21,40.64 L224.90,40.34 L225.59,40.04 L226.27,39.75 L226.96,39.45 L227.65,39.16 L228.34,38.87 L229.04,38.58 L229.73,38.29 L230.42,38.01 L231.12,37.72 L231.81,37.44 L232.51,37.17 L233.21,36.89 L233.91,36.62 L234.61,36.35 L235.31,36.09 L236.01,35.83 L236.72,35.57 L237.42,35.31 L238.13,35.06 L238.84,34.82 L239.54,34.58 L240.25,34.34 L240.96,34.11 L241.67,33.88 L242.39,33.66 L243.10,33.44 L243.82,33.23 L244.53,33.02 L245.25,32.82 L245.97,32.62 L246.69,32.42 L247.41,32.23 L248.13,32.04 L248.85,31.86 L249.57,31.68 L250.29,31.51 L251.02,31.33 L251.74,31.17 L252.47,31.00 L253.20,30.84 L253.92,30.68 L254.65,30.53 L255.38,30.38 L256.11,30.23 L256.84,30.09 L257.57,29.95 L258.31,29.81 L259.04,29.68 L259.77,29.54 L260.50,29.41 L261.24,29.29 L261.97,29.16 L262.71,29.04 L263.44,28.92 L264.18,28.80 L264.92,28.69 L265.65,28.57 L266.39,28.46 L267.13,28.35 L267.87,28.25 L268.60,28.14 L269.34,28.04 L270.08,27.94 L270.82,27.83 L271.56,27.74 L272.30,27.64 L273.04,27.54 L273.78,27.45 L274.52,27.35 L275.26,27.26 L276.00,27.17 L276.74,27.08 L277.48,26.99 L278.22,26.90 L278.96,26.81 L279.71,26.73 L280.45,26.64 L281.19,26.56 L281.93,26.48 L282.67,26.39 L283.41,26.31 L284.16,26.23 L284.90,26.16 L285.64,26.08 L286.38,26.00 L287.13,25.93 L287.87,25.85 L288.61,25.78 L289.35,25.70 L290.10,25.63 L290.84,25.56 L291.58,25.49 L292.33,25.42 L293.07,25.36 L293.81,25.29 L294.56,25.22 L295.30,25.16 L296.05,25.09 L296.79,25.03 L297.53,24.96 L298.28,24.90 L299.02,24.84 L299.77,24.78 L300.51,24.72 L301.26,24.66 L302.00,24.60 L302.75,24.55 L303.49,24.49 L304.24,24.43 L304.98,24.38 L305.73,24.32 L306.47,24.27 L307.22,24.21 L307.96,24.16 L308.71,24.11 L309.45,24.06 L310.20,24.01 L310.94,23.96 L311.69,23.91 L312.44,23.86 L313.18,23.81 L313.93,23.76 L314.67,23.71 L315.42,23.67 L316.16,23.62 L316.91,23.57 L317.66,23.53 L318.40,23.48 L319.15,23.44 L319.90,23.40 L320.64,23.35 L321.39,23.31 L322.13,23.27 L322.88,23.22 L323.63,23.18 L324.37,23.14 L325.12,23.10 L325.87,23.06 L326.61,23.02 L327.36,22.98 L328.10,22.94 L328.85,22.90 L329.60,22.86 L330.34,22.82 L331.09,22.78 L331.84,22.74 L332.58,22.70 L333.33,22.67 L334.08,22.63 L334.82,22.59 L335.57,22.55 L336.32,22.52 L337.06,22.48 L337.81,22.44 L338.55,22.40 L339.30,22.37 L340.05,22.33 L340.79,22.30 L341.54,22.26 L342.29,22.22 L343.03,22.19 L343.78,22.15 L344.52,22.12 L345.27,22.08 L346.02,22.04 L346.76,22.01 L347.51,21.97 L348.25,21.94 L349.00,21.90 L349.75,21.86 L350.49,21.83 L351.24,21.79 L351.98,21.76 L352.73,21.72 L353.47,21.68 L354.22,21.65 L354.96,21.61 L355.71,21.58 L356.46,21.54 L357.20,21.50 L357.95,21.46 L358.69,21.43 L359.44,21.39 L360.18,21.35 L360.93,21.32 L361.67,21.28 L362.42,21.24 L363.16,21.20 L363.90,21.16 L364.65,21.12 L365.39,21.08 L366.14,21.04 L366.88,21.00 L367.63,20.96 L368.37,20.92 L369.11,20.88 L369.86,20.84 L370.60,20.80" stroke="#00ff00" stroke-width="2.6" stroke-dasharray="3.1 2.4" stroke-dashoffset="0"/>
<path d="M50.90,274.70 L51.57,274.71 L52.24,274.71 L52.91,274.72 L53.59,274.72 L54.26,274.72 L54.94,274.72 L55.62,274.72 L56.29,274.71 L56.97,274.70 L57.65,274.70 L58.34,274.68 L59.02,274.67 L59.70,274.66 L60.39,274.64 L61.07,274.62 L61.76,274.60 L62.45,274.58 L63.14,274.55 L63.82,274.53 L64.51,274.50 L65.20,274.46 L65.89,274.43 L66.58,274.39 L67.28,274.35 L67.97,274.31 L68.66,274.27 L69.35,274.22 L70.04,274.17 L70.74,274.12 L71.43,274.07 L72.12,274.01 L72.82,273.95 L73.51,273.88 L74.20,273.82 L74.90,273.75 L75.59,273.68 L76.28,273.60 L76.97,273.53 L77.67,273.45 L78.36,273.36 L79.05,273.28 L79.74,273.19 L80.43,273.09 L81.12,273.00 L81.81,272.90 L82.50,272.79 L83.19,272.69 L83.88,272.58 L84.57,272.46 L85.25,272.35 L85.94,272.23 L86.62,272.10 L87.31,271.98 L87.99,271.85 L88.67,271.71 L89.35,271.57 L90.03,271.43 L90.71,271.29 L91.39,271.14 L92.06,270.98 L92.74,270.82 L93.41,270.66 L94.08,270.50 L94.76,270.33 L95.42,270.16 L96.09,269.98 L96.76,269.80 L97.42,269.61 L98.09,269.42 L98.75,269.23 L99.41,269.03 L100.07,268.83 L100.72,268.62 L101.38,268.41 L102.03,268.19 L102.68,267.97 L103.33,267.75 L103.97,267.52 L104.62,267.28 L105.26,267.04 L105.90,266.80 L106.54,266.55 L107.17,266.30 L107.80,266.04 L108.43,265.78 L109.06,265.51 L109.69,265.24 L110.31,264.96 L110.93,264.68 L111.55,264.39 L112.16,264.10 L112.78,263.81 L113.39,263.50 L114.00,263.20 L114.60,262.89 L115.20,262.57 L115.80,262.25 L116.40,261.93 L117.00,261.60 L117.59,261.26 L118.18,260.92 L118.77,260.58 L119.35,260.24 L119.94,259.88 L120.52,259.53 L121.10,259.17 L121.67,258.81 L122.25,258.44 L122.82,258.07 L123.39,257.69 L123.96,257.32 L124.52,256.93 L125.08,256.55 L125.64,256.16 L126.20,255.76 L126.76,255.37 L127.31,254.97 L127.86,254.56 L128.41,254.15 L128.96,253.74 L129.51,253.33 L130.05,252.91 L130.59,252.49 L131.13,252.07 L131.67,251.64 L132.20,251.21 L132.73,250.78 L133.26,250.34 L133.79,249.90 L134.32,249.46 L134.84,249.01 L135.37,248.57 L135.89,248.12 L136.41,247.66 L136.92,247.21 L137.44,246.75 L137.95,246.29 L138.46,245.83 L138.97,245.36 L139.48,244.90 L139.98,244.43 L140.48,243.95 L140.99,243.48 L141.49,243.00 L141.98,242.52 L142.48,242.04 L142.97,241.56 L143.47,241.08 L143.96,240.59 L144.45,240.10 L144.93,239.61 L145.42,239.12 L145.90,238.63 L146.39,238.13 L146.87,237.64 L147.35,237.14 L147.82,236.64 L148.30,236.14 L148.77,235.64 L149.24,235.14 L149.71,234.63 L150.18,234.13 L150.65,233.62 L151.12,233.11 L151.58,232.60 L152.04,232.09 L152.51,231.58 L152.97,231.07 L153.42,230.55 L153.88,230.04 L154.34,229.52 L154.79,229.01 L155.24,228.49 L155.70,227.97 L156.15,227.45 L156.60,226.93 L157.04,226.40 L157.49,225.88 L157.93,225.36 L158.38,224.83 L158.82,224.30 L159.26,223.78 L159.70,223.25 L160.14,222.72 L160.58,222.19 L161.01,221.66 L161.45,221.12 L161.88,220.59 L162.32,220.06 L162.75,219.52 L163.18,218.99 L163.61,218.45 L164.04,217.91 L164.46,217.37 L164.89,216.83 L165.32,216.29 L165.74,215.75 L166.16,215.21 L166.59,214.67 L167.01,214.13 L167.43,213.58 L167.85,213.04 L168.27,212.50 L168.69,211.95 L169.10,211.40 L169.52,210.86 L169.93,210.31 L170.35,209.76 L170.76,209.21 L171.18,208.66 L171.59,208.11 L172.00,207.56 L172.41,207.01 L172.82,206.46 L173.23,205.91 L173.64,205.35 L174.05,204.80 L174.46,204.25 L174.86,203.69 L175.27,203.14 L175.68,202.58 L176.08,202.03 L176.48,201.47 L176.89,200.91 L177.29,200.36 L177.70,199.80 L178.10,199.24 L178.50,198.68 L178.90,198.13 L179.30,197.57 L179.70,197.01 L180.11,196.45 L180.51,195.89 L180.91,195.33 L181.30,194.77 L181.70,194.21 L182.10,193.65 L182.50,193.09 L182.90,192.53 L183.30,191.96 L183.70,191.40 L184.09,190.84 L184.49,190.28 L184.89,189.72 L185.28,189.15 L185.68,188.59 L186.08,188.03 L186.47,187.47 L186.87,186.90 L187.27,186.34 L187.66,185.78 L188.06,185.22 L188.45,184.65 L188.85,184.09 L189.25,183.53 L189.64,182.96 L190.04,182.40 L190.43,181.84 L190.83,181.28 L191.23,180.71 L191.62,180.15 L192.02,179.59 L192.42,179.02 L192.81,178.46 L193.21,177.90 L193.61,177.34 L194.00,176.78 L194.40,176.21 L194.80,175.65 L195.20,175.09 L195.60,174.53 L195.99,173.97 L196.39,173.41 L196.79,172.85 L197.19,172.29 L197.59,171.73 L197.99,171.17 L198.39,170.61 L198.79,170.05 L199.19,169.49 L199.59,168.93 L200.00,168.37 L200.40,167.81 L200.80,167.26 L201.21,166.70 L201.61,166.14 L202.01,165.59 L202.42,165.03 L202.83,164.48 L203.23,163.92 L203.64,163.37 L204.05,162.81 L204.45,162.26 L204.86,161.71 L205.27,161.15 L205.68,160.60 L206.09,160.05 L206.51,159.50 L206.92,158.95 L207.33,158.40 L207.74,157.85 L208.16,157.30 L208.57,156.75 L208.99,156.21 L209.41,155.66 L209.83,155.11 L210.24,154.57 L210.66,154.02 L211.08,153.48 L211.51,152.94 L211.93,152.39 L212.35,151.85 L212.78,151.31 L213.20,150.77 L213.63,150.23 L214.05,149.69 L214.48,149.15 L214.91,148.62 L215.34,148.08 L215.77,147.54 L216.20,147.01 L216.63,146.47 L217.06,145.94 L217.49,145.40 L217.93,144.87 L218.36,144.33 L218.80,143.80 L219.23,143.27 L219.67,142.74 L220.10,142.21 L220.54,141.67 L220.98,141.14 L221.42,140.61 L221.85,140.08 L222.29,139.55 L222.73,139.02 L223.17,138.49 L223.61,137.97 L224.05,137.44 L224.49,136.91 L224.94,136.38 L225.38,135.85 L225.82,135.32 L226.26,134.80 L226.70,134.27 L227.15,133.74 L227.59,133.22 L228.03,132.69 L228.48,132.16 L228.92,131.64 L229.36,131.11 L229.81,130.58 L230.25,130.06 L230.70,129.53 L231.14,129.01 L231.59,128.48 L232.03,127.96 L232.48,127.43 L232.92,126.91 L233.37,126.38 L233.82,125.86 L234.26,125.33 L234.71,124.81 L235.16,124.29 L235.61,123.77 L236.06,123.24 L236.51,122.72 L236.96,122.20 L237.41,121.68 L237.86,121.16 L238.31,120.64 L238.76,120.13 L239.22,119.61 L239.67,119.09 L240.13,118.57 L240.58,118.06 L241.04,117.54 L241.49,117.03 L241.95,116.52 L242.41,116.00 L242.87,115.49 L243.33,114.98 L243.79,114.47 L244.25,113.96 L244.72,113.45 L245.18,112.94 L245.65,112.44 L246.11,111.93 L246.58,111.43 L247.05,110.92 L247.52,110.42 L247.99,109.92 L248.46,109.42 L248.93,108.92 L249.40,108.42 L249.88,107.92 L250.35,107.43 L250.83,106.93 L251.31,106.44 L251.79,105.95 L252.27,105.46 L252.75,104.97 L253.23,104.48 L253.72,103.99 L254.20,103.51 L254.69,103.02 L255.18,102.54 L255.67,102.06 L256.16,101.58 L256.65,101.10 L257.15,100.63 L257.64,100.15 L258.14,99.68 L258.64,99.21 L259.14,98.74 L259.64,98.27 L260.14,97.80 L260.64,97.34 L261.15,96.87 L261.66,96.41 L262.17,95.95 L262.68,95.50 L263.19,95.04 L263.70,94.59 L264.22,94.13 L264.74,93.68 L265.26,93.24 L265.78,92.79 L266.30,92.34 L266.82,91.90 L267.35,91.46 L267.88,91.02 L268.41,90.59 L268.94,90.15 L269.47,89.72 L270.01,89.29 L270.54,88.86 L271.08,88.43 L271.62,88.01 L272.16,87.59 L272.70,87.17 L273.25,86.75 L273.79,86.33 L274.34,85.91 L274.89,85.50 L275.44,85.09 L275.99,84.68 L276.54,84.27 L277.09,83.86 L277.65,83.46 L278.21,83.06 L278.76,82.65 L279.32,82.25 L279.88,81.86 L280.44,81.46 L281.01,81.06 L281.57,80.67 L282.14,80.28 L282.70,79.89 L283.27,79.50 L283.84,79.11 L284.41,78.73 L284.98,78.34 L285.55,77.96 L286.13,77.58 L286.70,77.20 L287.28,76.82 L287.85,76.45 L288.43,76.07 L289.01,75.70 L289.59,75.33 L290.17,74.96 L290.75,74.59 L291.33,74.23 L291.92,73.86 L292.50,73.50 L293.09,73.14 L293.68,72.78 L294.26,72.42 L294.85,72.06 L295.44,71.71 L296.03,71.35 L296.63,71.00 L297.22,70.65 L297.81,70.30 L298.41,69.95 L299.00,69.61 L299.60,69.26 L300.20,68.92 L300.80,68.58 L301.40,68.24 L302.00,67.91 L302.60,67.57 L303.20,67.24 L303.81,66.90 L304.41,66.57 L305.02,66.24 L305.62,65.92 L306.23,65.59 L306.84,65.27 L307.45,64.94 L308.06,64.62 L308.67,64.31 L309.28,63.99 L309.89,63.67 L310.51,63.36 L311.12,63.05 L311.74,62.74 L312.35,62.43 L312.97,62.12 L313.59,61.81 L314.21,61.51 L314.82,61.21 L315.45,60.91 L316.07,60.61 L316.69,60.31 L317.31,60.02 L317.93,59.72 L318.56,59.43 L319.18,59.14 L319.81,58.85 L320.44,58.57 L321.06,58.28 L321.69,58.00 L322.32,57.72 L322.95,57.44 L323.58,57.16 L324.21,56.88 L324.84,56.61 L325.48,56.34 L326.11,56.06 L326.75,55.79 L327.38,55.53 L328.02,55.26 L328.65,55.00 L329.29,54.74 L329.93,54.48 L330.57,54.22 L331.20,53.96 L331.84,53.70 L332.48,53.45 L333.13,53.20 L333.77,52.95 L334.41,52.70 L335.05,52.46 L335.70,52.21 L336.34,51.97 L336.99,51.73 L337.63,51.49 L338.28,51.25 L338.93,51.02 L339.57,50.78 L340.22,50.55 L340.87,50.32 L341.52,50.09 L342.17,49.87 L342.82,49.64 L343.47,49.42 L344.12,49.20 L344.77,48.98 L345.43,48.76 L346.08,48.55 L346.74,48.33 L347.39,48.12 L348.04,47.91 L348.70,47.70 L349.36,47.50 L350.01,47.29 L350.67,47.09 L351.33,46.89 L351.99,46.69 L352.64,46.50 L353.30,46.30 L353.96,46.11 L354.62,45.92 L355.28,45.73 L355.95,45.54 L356.61,45.36 L357.27,45.17 L357.93,44.99 L358.59,44.81 L359.26,44.63 L359.92,44.46 L360.59,44.28 L361.25,44.11 L361.92,43.94 L362.58,43.77 L363.25,43.60 L363.91,43.44 L364.58,43.28 L365.25,43.12 L365.92,42.96 L366.58,42.80 L367.25,42.65 L367.92,42.49 L368.59,42.34 L369.26,42.19 L369.93,42.04 L370.60,41.90" stroke="#000" stroke-width="3.0" stroke-dasharray="2.9 2.5" stroke-dashoffset="0"/>
</g>
<path d="M51.10,276.05v-3.3M51.10,2.00v3.3M67.20,276.05v-1.55M67.20,2.00v1.55M83.31,276.05v-1.55M83.31,2.00v1.55M99.41,276.05v-1.55M99.41,2.00v1.55M115.52,276.05v-3.3M115.52,2.00v3.3M131.62,276.05v-1.55M131.62,2.00v1.55M147.73,276.05v-1.55M147.73,2.00v1.55M163.84,276.05v-1.55M163.84,2.00v1.55M179.94,276.05v-3.3M179.94,2.00v3.3M196.04,276.05v-1.55M196.04,2.00v1.55M212.15,276.05v-1.55M212.15,2.00v1.55M228.25,276.05v-1.55M228.25,2.00v1.55M244.36,276.05v-3.3M244.36,2.00v3.3M260.47,276.05v-1.55M260.47,2.00v1.55M276.57,276.05v-1.55M276.57,2.00v1.55M292.68,276.05v-1.55M292.68,2.00v1.55M308.78,276.05v-3.3M308.78,2.00v3.3M324.89,276.05v-1.55M324.89,2.00v1.55M340.99,276.05v-1.55M340.99,2.00v1.55M357.10,276.05v-1.55M357.10,2.00v1.55M373.20,276.05v-3.3M373.20,2.00v3.3M45.90,277.20h3.3M375.05,277.20h-3.3M45.90,264.07h1.55M375.05,264.07h-1.55M45.90,250.94h1.55M375.05,250.94h-1.55M45.90,237.81h1.55M375.05,237.81h-1.55M45.90,224.68h3.3M375.05,224.68h-3.3M45.90,211.55h1.55M375.05,211.55h-1.55M45.90,198.42h1.55M375.05,198.42h-1.55M45.90,185.29h1.55M375.05,185.29h-1.55M45.90,172.16h3.3M375.05,172.16h-3.3M45.90,159.03h1.55M375.05,159.03h-1.55M45.90,145.90h1.55M375.05,145.90h-1.55M45.90,132.77h1.55M375.05,132.77h-1.55M45.90,119.64h3.3M375.05,119.64h-3.3M45.90,106.51h1.55M375.05,106.51h-1.55M45.90,93.38h1.55M375.05,93.38h-1.55M45.90,80.25h1.55M375.05,80.25h-1.55M45.90,67.12h3.3M375.05,67.12h-3.3M45.90,53.99h1.55M375.05,53.99h-1.55M45.90,40.86h1.55M375.05,40.86h-1.55M45.90,27.73h1.55M375.05,27.73h-1.55M45.90,14.60h3.3M375.05,14.60h-3.3" stroke="#000" stroke-width="2.0" fill="none"/>
<rect x="44.85" y="0.95" width="331.25" height="276.15000000000003" fill="none" stroke="#000" stroke-width="2.1"/>
<g font-family="Liberation Serif, serif" font-weight="bold" font-size="12px" fill="#000" style="filter:grayscale(1)">
<text x="41.4" y="280.90" text-anchor="end">0.0</text>
<text x="41.4" y="228.38" text-anchor="end">0.2</text>
<text x="41.4" y="175.86" text-anchor="end">0.4</text>
<text x="41.4" y="123.34" text-anchor="end">0.6</text>
<text x="41.4" y="70.82" text-anchor="end">0.8</text>
<text x="41.4" y="18.30" text-anchor="end">1.0</text>
<text x="51.10" y="290.3" text-anchor="middle">0</text>
<text x="115.52" y="290.3" text-anchor="middle">20</text>
<text x="179.94" y="290.3" text-anchor="middle">40</text>
<text x="244.36" y="290.3" text-anchor="middle">60</text>
<text x="308.78" y="290.3" text-anchor="middle">80</text>
<text x="373.20" y="290.3" text-anchor="middle">100</text>
<text x="199.6" y="309.2"><tspan font-style="italic">ω</tspan><tspan font-size="16px" dx="-0.4" dy="2.3">/</tspan><tspan dy="-2.3" dx="-0.5">T</tspan></text>
<text transform="translate(17.9,154.9) rotate(-90)" font-size="12.4px">Re[<tspan font-style="italic" font-size="13.5px" dx="0.1">σ</tspan><tspan dx="0.2">]</tspan></text>
</g>
<rect x="235.6" y="146.6" width="131.50000000000003" height="111.6" fill="#fff" stroke="#707070" stroke-width="0.85"/>
<g font-family="Liberation Serif, serif" font-size="14.5px" fill="#000" style="filter:grayscale(1)">
<text x="266.6" y="160.6"><tspan font-style="italic">O</tspan><tspan dx="11.65">Model</tspan><tspan dx="5.5">I</tspan></text>
<path d="M277.4,160.3H283.2" stroke="#000" stroke-width="1.0" fill="none"/>
<text x="286.9" y="177.4"><tspan letter-spacing="-0.1">RN−AdS</tspan></text>
<text x="286.9" y="195.6">T<tspan font-size="16.5px" dy="1.1" dx="-0.2">/</tspan><tspan dy="-1.1" dx="-0.2">T</tspan><tspan dx="0.3">c</tspan><tspan font-size="16.2px" dx="0.5" dy="1.5">=</tspan><tspan dx="-0.3" dy="-1.5">0.5</tspan></text>
<text x="286.9" y="214.5">T<tspan font-size="16.5px" dy="1.1" dx="-0.2">/</tspan><tspan dy="-1.1" dx="-0.2">T</tspan><tspan dx="0.3">c</tspan><tspan font-size="16.2px" dx="0.5" dy="1.5">=</tspan><tspan dx="-0.3" dy="-1.5">0.3</tspan></text>
<text x="286.9" y="233.5">T<tspan font-size="16.5px" dy="1.1" dx="-0.2">/</tspan><tspan dy="-1.1" dx="-0.2">T</tspan><tspan dx="0.3">c</tspan><tspan font-size="16.2px" dx="0.5" dy="1.5">=</tspan><tspan dx="-0.3" dy="-1.5">0.2</tspan></text>
<text x="286.9" y="251.9">T<tspan font-size="16.5px" dy="1.1" dx="-0.2">/</tspan><tspan dy="-1.1" dx="-0.2">T</tspan><tspan dx="0.3">c</tspan><tspan font-size="16.2px" dx="0.5" dy="1.5">=</tspan><tspan dx="-0.3" dy="-1.5">0.11</tspan></text>
</g>
<path d="M241.8,173.3H259.6" stroke="#000" stroke-width="2.35" fill="none"/>
<path d="M241.7,192.0H248.5M250.2,192.0H257.0" stroke="#ff0000" stroke-width="2.35" fill="none"/>
<path d="M241.7,210.5H245.1M246.8,210.5H254.1M255.8,210.5H259.5" stroke="#0000ff" stroke-width="2.35" fill="none"/>
<path d="M241.7,229.2H245.1M246.9,229.2H250.6M252.4,229.2H255.8" stroke="#00ff00" stroke-width="2.35" fill="none"/>
<path d="M241.8,247.8H259.6" stroke="#000" stroke-width="2.35" fill="none"/>
</svg>
</body></html>
